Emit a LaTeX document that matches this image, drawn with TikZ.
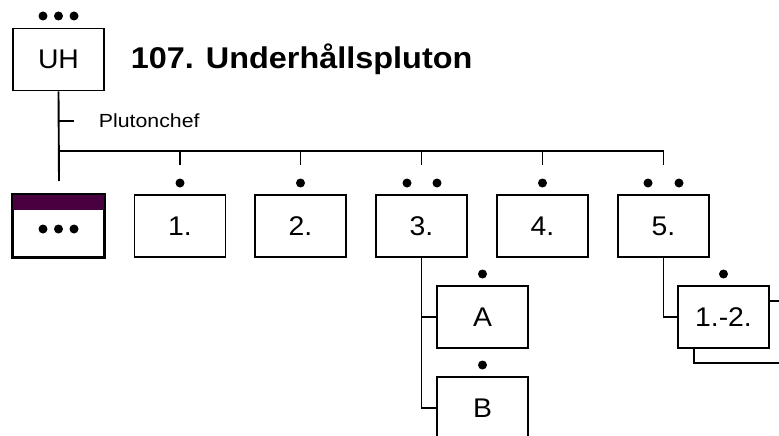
\documentclass[tikz,border=0pt]{standalone}
\usepackage{fontspec}
\setmainfont{Liberation Sans}
\definecolor{hdrpurple}{RGB}{72,0,64}
\newcommand{\wide}[2][1.05]{\scalebox{#1}[1]{#2}}
\begin{document}
\begin{tikzpicture}[x=1pt,y=-1pt,
  line width=1.9pt,
  unitbox/.style={draw, fill=white, minimum width=91pt, minimum height=62pt, inner sep=0pt,
    font=\fontsize{27}{32}\selectfont},
  dotmark/.style={fill=black},
  lbl/.style={inner sep=0pt, anchor=base west}]
\useasboundingbox (0,0) rectangle (779,436);
\clip (0,0) rectangle (779,436);

% top unit
\node[unitbox] (uh) at (58.5,59.5) {\wide{UH}};
\foreach \x in {43,58.5,74} \fill[dotmark] (\x,16) circle (4.5pt);
\node[lbl, font=\bfseries\fontsize{30}{34}\selectfont] (title) at (130,69) {\wide[1.08]{107. Underhållspluton}};

% trunk
\coordinate (trunkend) at (59,181);
\coordinate (hbar) at (59,151);
\coordinate (pctick) at (74,121);
\draw (uh.south) -- (trunkend);
\draw (uh.south |- pctick) -- (pctick);
\node[lbl, font=\fontsize{19}{23}\selectfont] (pc) at (98,127) {\wide[1.12]{Plutonchef}};

% staff box
\node[unitbox] (p0) at (58.5,226) {};
\fill[hdrpurple] (p0.north west) rectangle ([yshift=-16pt]p0.north east);
\draw (p0.north west) rectangle (p0.south east);
\foreach \x in {43,58.5,74} \fill[dotmark] (\x,229) circle (4.5pt);

% platoons
\node[unitbox] (b1) at (180,226) {\wide{1.}};
\node[unitbox] (b2) at (300.5,226) {\wide{2.}};
\node[unitbox] (b3) at (421.5,226) {\wide{3.}};
\node[unitbox] (b4) at (542.5,226) {\wide{4.}};
\node[unitbox] (b5) at (663.5,226) {\wide{5.}};

\draw (hbar) -- (hbar -| b5.north);
\foreach \b in {b1,b2,b3,b4,b5}
  \draw (hbar -| \b.north) -- ([yshift=29pt]\b.north);

\fill[dotmark] (180,183) circle (4.5pt);
\fill[dotmark] (300.5,183) circle (4.5pt);
\fill[dotmark] (407,183) circle (4.5pt);
\fill[dotmark] (437,183) circle (4.5pt);
\fill[dotmark] (542.5,183) circle (4.5pt);
\fill[dotmark] (648,183) circle (4.5pt);
\fill[dotmark] (679,183) circle (4.5pt);

% sections under 3.
\node[unitbox] (bA) at (482.5,317) {\wide{A}};
\node[unitbox] (bB) at (482.5,408) {\wide{B}};
\fill[dotmark] (482.5,274) circle (4.5pt);
\fill[dotmark] (482.5,365) circle (4.5pt);
\draw (b3.south) -- (b3.south |- bB.west) -- (bB.west);
\draw (b3.south |- bA.west) -- (bA.west);

% sections under 5.
\node[unitbox] (b12s) at (739.5,332) {};
\node[unitbox] (b12) at (723.5,317) {\wide{1.-2.}};
\fill[dotmark] (723.5,274) circle (4.5pt);
\draw (b5.south) -- (b5.south |- b12.west) -- (b12.west);
\end{tikzpicture}
\end{document}
